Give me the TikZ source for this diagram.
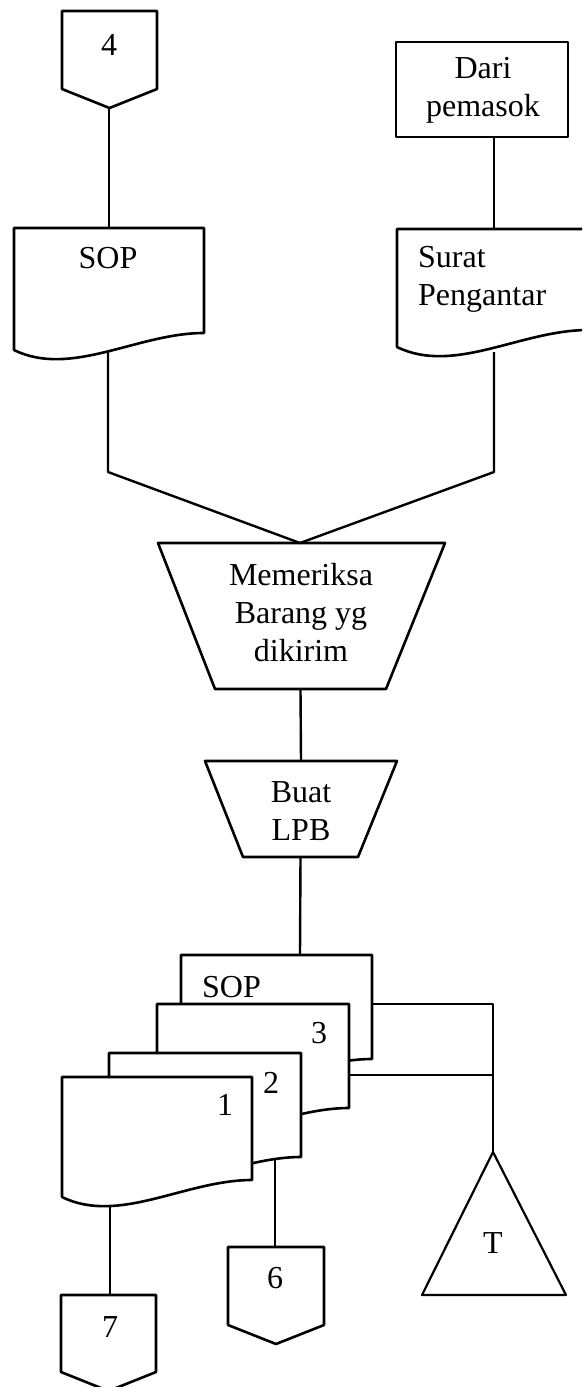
\documentclass[tikz,border=0pt]{standalone}
\usepackage{fontspec}
\setmainfont{Liberation Serif}

% off-page connector: name, left, right, top, bottom of the sides (tip 19 below)
\newcommand\flowoffpage[5]{%
  \draw[symbol] (#2,#4) -- (#3,#4) -- (#3,#5) -- ({(#2+#3)/2},{#5+19}) -- (#2,#5) -- cycle;
  \coordinate (#1-top) at ({(#2+#3)/2},#4);
}
% document symbol: name, left, right, top, drop of the right corner
\newcommand\flowdoc[5]{%
  \draw[symbol] (#2,#4) -- (#3,#4) -- (#3,{#4+#5})
    .. controls ({#3-0.35*(#3-#2)},{#4+#5}) and ({#2+0.3*(#3-#2)},{#4+#5+45}) ..
    (#2,{#4+#5+17}) -- cycle;
  \coordinate (#1-top) at ({(#2+#3)/2},#4);
}
% manual operation (trapezoid): name, top y, top left, top right, bottom y, bottom left, bottom right
\newcommand\flowmanual[7]{%
  \draw[symbol] (#3,#2) -- (#4,#2) -- (#7,#5) -- (#6,#5) -- cycle;
  \coordinate (#1-top) at ({(#3+#4)/2},#2);
  \coordinate (#1-bot) at ({(#6+#7)/2},#5);
}

\begin{document}
\begin{tikzpicture}[x=1pt,y=-1pt,
  symbol/.style={draw=black, line width=2.6pt, fill=white, line join=round},
  link/.style={draw=black, line width=2.4pt, line join=round},
  thinlink/.style={draw=black, line width=1.5pt},
  txt/.style={inner sep=0pt, font=\fontsize{32}{38}\selectfont, align=center},
]
\useasboundingbox (0,0) rectangle (582,1387);
\clip (0,0) rectangle (582,1387);

% ---------- upper part ----------
\flowoffpage{c4}{62}{157}{11}{89}
\coordinate (c4-tip) at (109,108);
\node[txt] (t4) at (109,45) {4};

\draw[symbol] (396,42) rectangle (568,137);
\coordinate (src-bot) at (494,137);
\node[txt] (tsrc) at (483,90) {Dari\\pemasok};

\flowdoc{sop}{14}{204}{228}{105}
\coordinate (sop-in) at (109,228);
\coordinate (sop-bot) at (108,352);
\node[txt] (tsop) at (108,258) {SOP};

\flowdoc{srt}{397}{588}{229}{101}
\coordinate (srt-in) at (494,229);
\coordinate (srt-bot) at (494,352);
\node[txt, anchor=west, align=left] (tsrt) at (418,279) {Surat\\Pengantar};

\draw[link] (c4-tip) -- (sop-in);
\draw[link] (src-bot) -- (srt-in);

% ---------- checking and LPB ----------
\flowmanual{chk}{543}{158}{445}{689}{215}{386}
\node[txt] (tchk) at (301,613) {Memeriksa\\Barang yg\\dikirim};

\flowmanual{lpb}{761}{205}{397}{857}{243}{358}
\node[txt] (tlpb) at (301,811) {Buat\\LPB};

\coordinate (meet) at (300,543);
\draw[link] (sop-bot) -- (108,472) -- (meet);
\draw[link] (srt-bot) -- (494,472) -- (meet);
\draw[link] (chk-bot) -- (lpb-top);

% ---------- LPB copies ----------
\coordinate (set-top) at (300,955);
\draw[link] (lpb-bot) -- (set-top);

\coordinate (tri-apex) at (493,1152);
\coordinate (set-r) at (372,1004);
\coordinate (cp3-r) at (349,1075);
\coordinate (junc) at (493,1075);
\draw[link] (set-r) -- (493,1004) -- (tri-apex);
\draw[link] (cp3-r) -- (junc);

\coordinate (cp2-bot) at (275,1158);
\coordinate (c6-top) at (275,1247);
\draw[thinlink] (cp2-bot) -- (c6-top);

\coordinate (cp1-bot) at (110,1206);
\coordinate (c7-top) at (110,1295);
\draw[link] (cp1-bot) -- (c7-top);

\flowdoc{lpbs}{181}{372}{955}{104}
\node[txt, anchor=west] (tlpbs) at (202,987) {SOP};
\flowdoc{cp3}{157}{349}{1004}{104}
\node[txt] (t3) at (319,1033) {3};
\flowdoc{cp2}{109}{301}{1053}{104}
\node[txt] (t2) at (271,1083) {2};
\flowdoc{cp1}{62}{252}{1077}{103}
\node[txt] (t1) at (225,1105) {1};

% ---------- archive and connectors out ----------
\draw[symbol, line width=2.2pt] (tri-apex) -- (566,1295) -- (422,1295) -- cycle;
\node[txt] (tT) at (493,1243) {T};

\flowoffpage{c6}{228}{324}{1247}{1325}
\node[txt] (t6) at (275,1278) {6};

\flowoffpage{c7}{61}{156}{1295}{1372}
\node[txt] (t7) at (110,1327) {7};

\end{tikzpicture}
\end{document}
